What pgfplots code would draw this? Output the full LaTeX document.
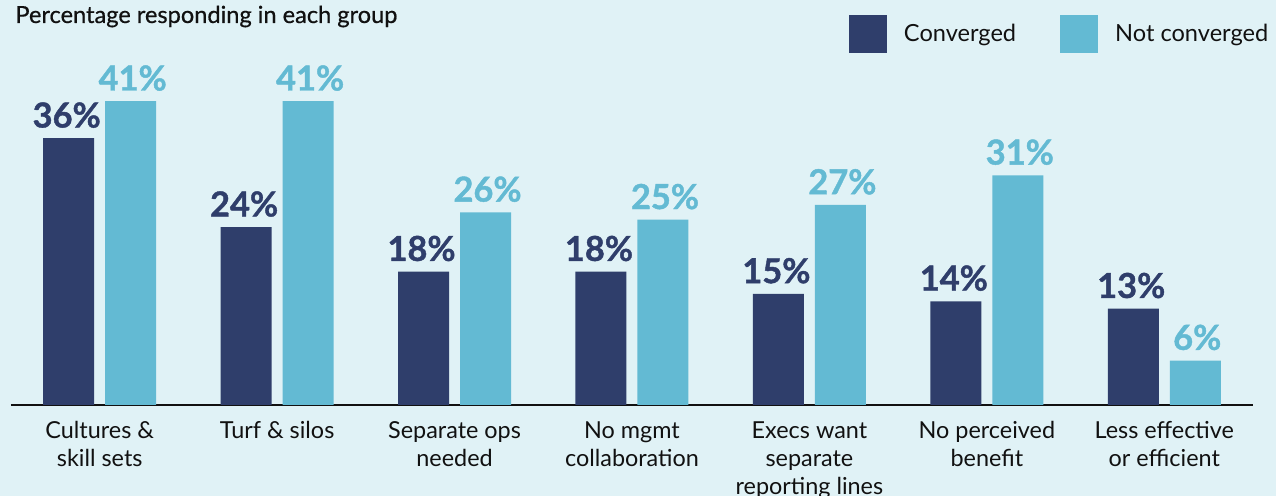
\documentclass[border=0pt]{standalone}
\usepackage{pgfplots}
\pgfplotsset{compat=1.18}
\usepackage{fontspec}
\setmainfont{Lato}
\newfontface\titlefont[FakeBold=0.6]{Lato}
\newfontface\labelfont[FakeBold=1.2]{Lato Bold}
\definecolor{bg}{RGB}{224,242,246}
\definecolor{navy}{RGB}{47,62,107}
\definecolor{sky}{RGB}{99,186,211}
\definecolor{txt}{RGB}{17,17,17}
\begin{document}
\begin{tikzpicture}
\clip (0,0) rectangle (638pt,248pt);
\fill[bg] (0,0) rectangle (638pt,248pt);
\node[anchor=base west, inner sep=0pt, text=txt, font=\titlefont\fontsize{11.8}{13}\selectfont] at (7.5pt,236.5pt) {Percentage responding in each group};
\begin{axis}[
  at={(5.5pt,45.5pt)}, anchor=south west,
  scale only axis, width=621pt, height=185.25pt,
  xmin=-0.5, xmax=6.5, ymin=0, ymax=50,
  axis x line=bottom, axis y line=none,
  axis line style={line width=1pt, -, txt},
  xtick={0,1,2,3,4,5,6},
  major tick length=0pt,
  xticklabels={{Cultures \&\\skill sets},{Turf \& silos},{Separate ops\\needed},{No mgmt\\collaboration},{Execs want\\separate\\reporting lines},{No perceived\\benefit},{Less effective\\or efficient}},
  xticklabel style={align=center, inner sep=0pt, yshift=-8pt, text=txt, font=\fontsize{11.7}{14}\selectfont},
  clip=false,
  legend columns=2,
  legend style={at={(axis description cs:0.6747,1.0013)}, anchor=west, draw=none, fill=none, inner sep=0pt, outer sep=0pt,
    nodes={inner sep=0pt, text=txt, font=\fontsize{11.8}{13}\selectfont},
    /tikz/every odd column/.append style={column sep=8.5pt},
    /tikz/every even column/.append style={column sep=22pt}},
  legend cell align=left,
  nodes near coords={\pgfmathprintnumber[assume math mode=true]{\pgfplotspointmeta}\%},
  every node near coord/.append style={font=\labelfont\fontsize{17.2}{17.2}\selectfont, anchor=south, inner sep=0pt, yshift=5pt},
]
\addplot[ybar, bar width=25.5pt, bar shift=-15.5pt, fill=navy, draw=none,
  every node near coord/.append style={text=navy, xshift=-16.5pt},
  legend image code/.code={\fill[navy] (0pt,-9.5pt) rectangle (19pt,9.5pt);}]
  coordinates {(0,36) (1,24) (2,18) (3,18) (4,15) (5,14) (6,13)};
\addlegendentry{Converged}
\addplot[ybar, bar width=25.5pt, bar shift=15.5pt, fill=sky, draw=none,
  every node near coord/.append style={text=sky, xshift=16.5pt},
  legend image code/.code={\fill[sky] (0pt,-9.5pt) rectangle (19pt,9.5pt);}]
  coordinates {(0,41) (1,41) (2,26) (3,25) (4,27) (5,31) (6,6)};
\addlegendentry{Not converged}
\end{axis}
\end{tikzpicture}
\end{document}
